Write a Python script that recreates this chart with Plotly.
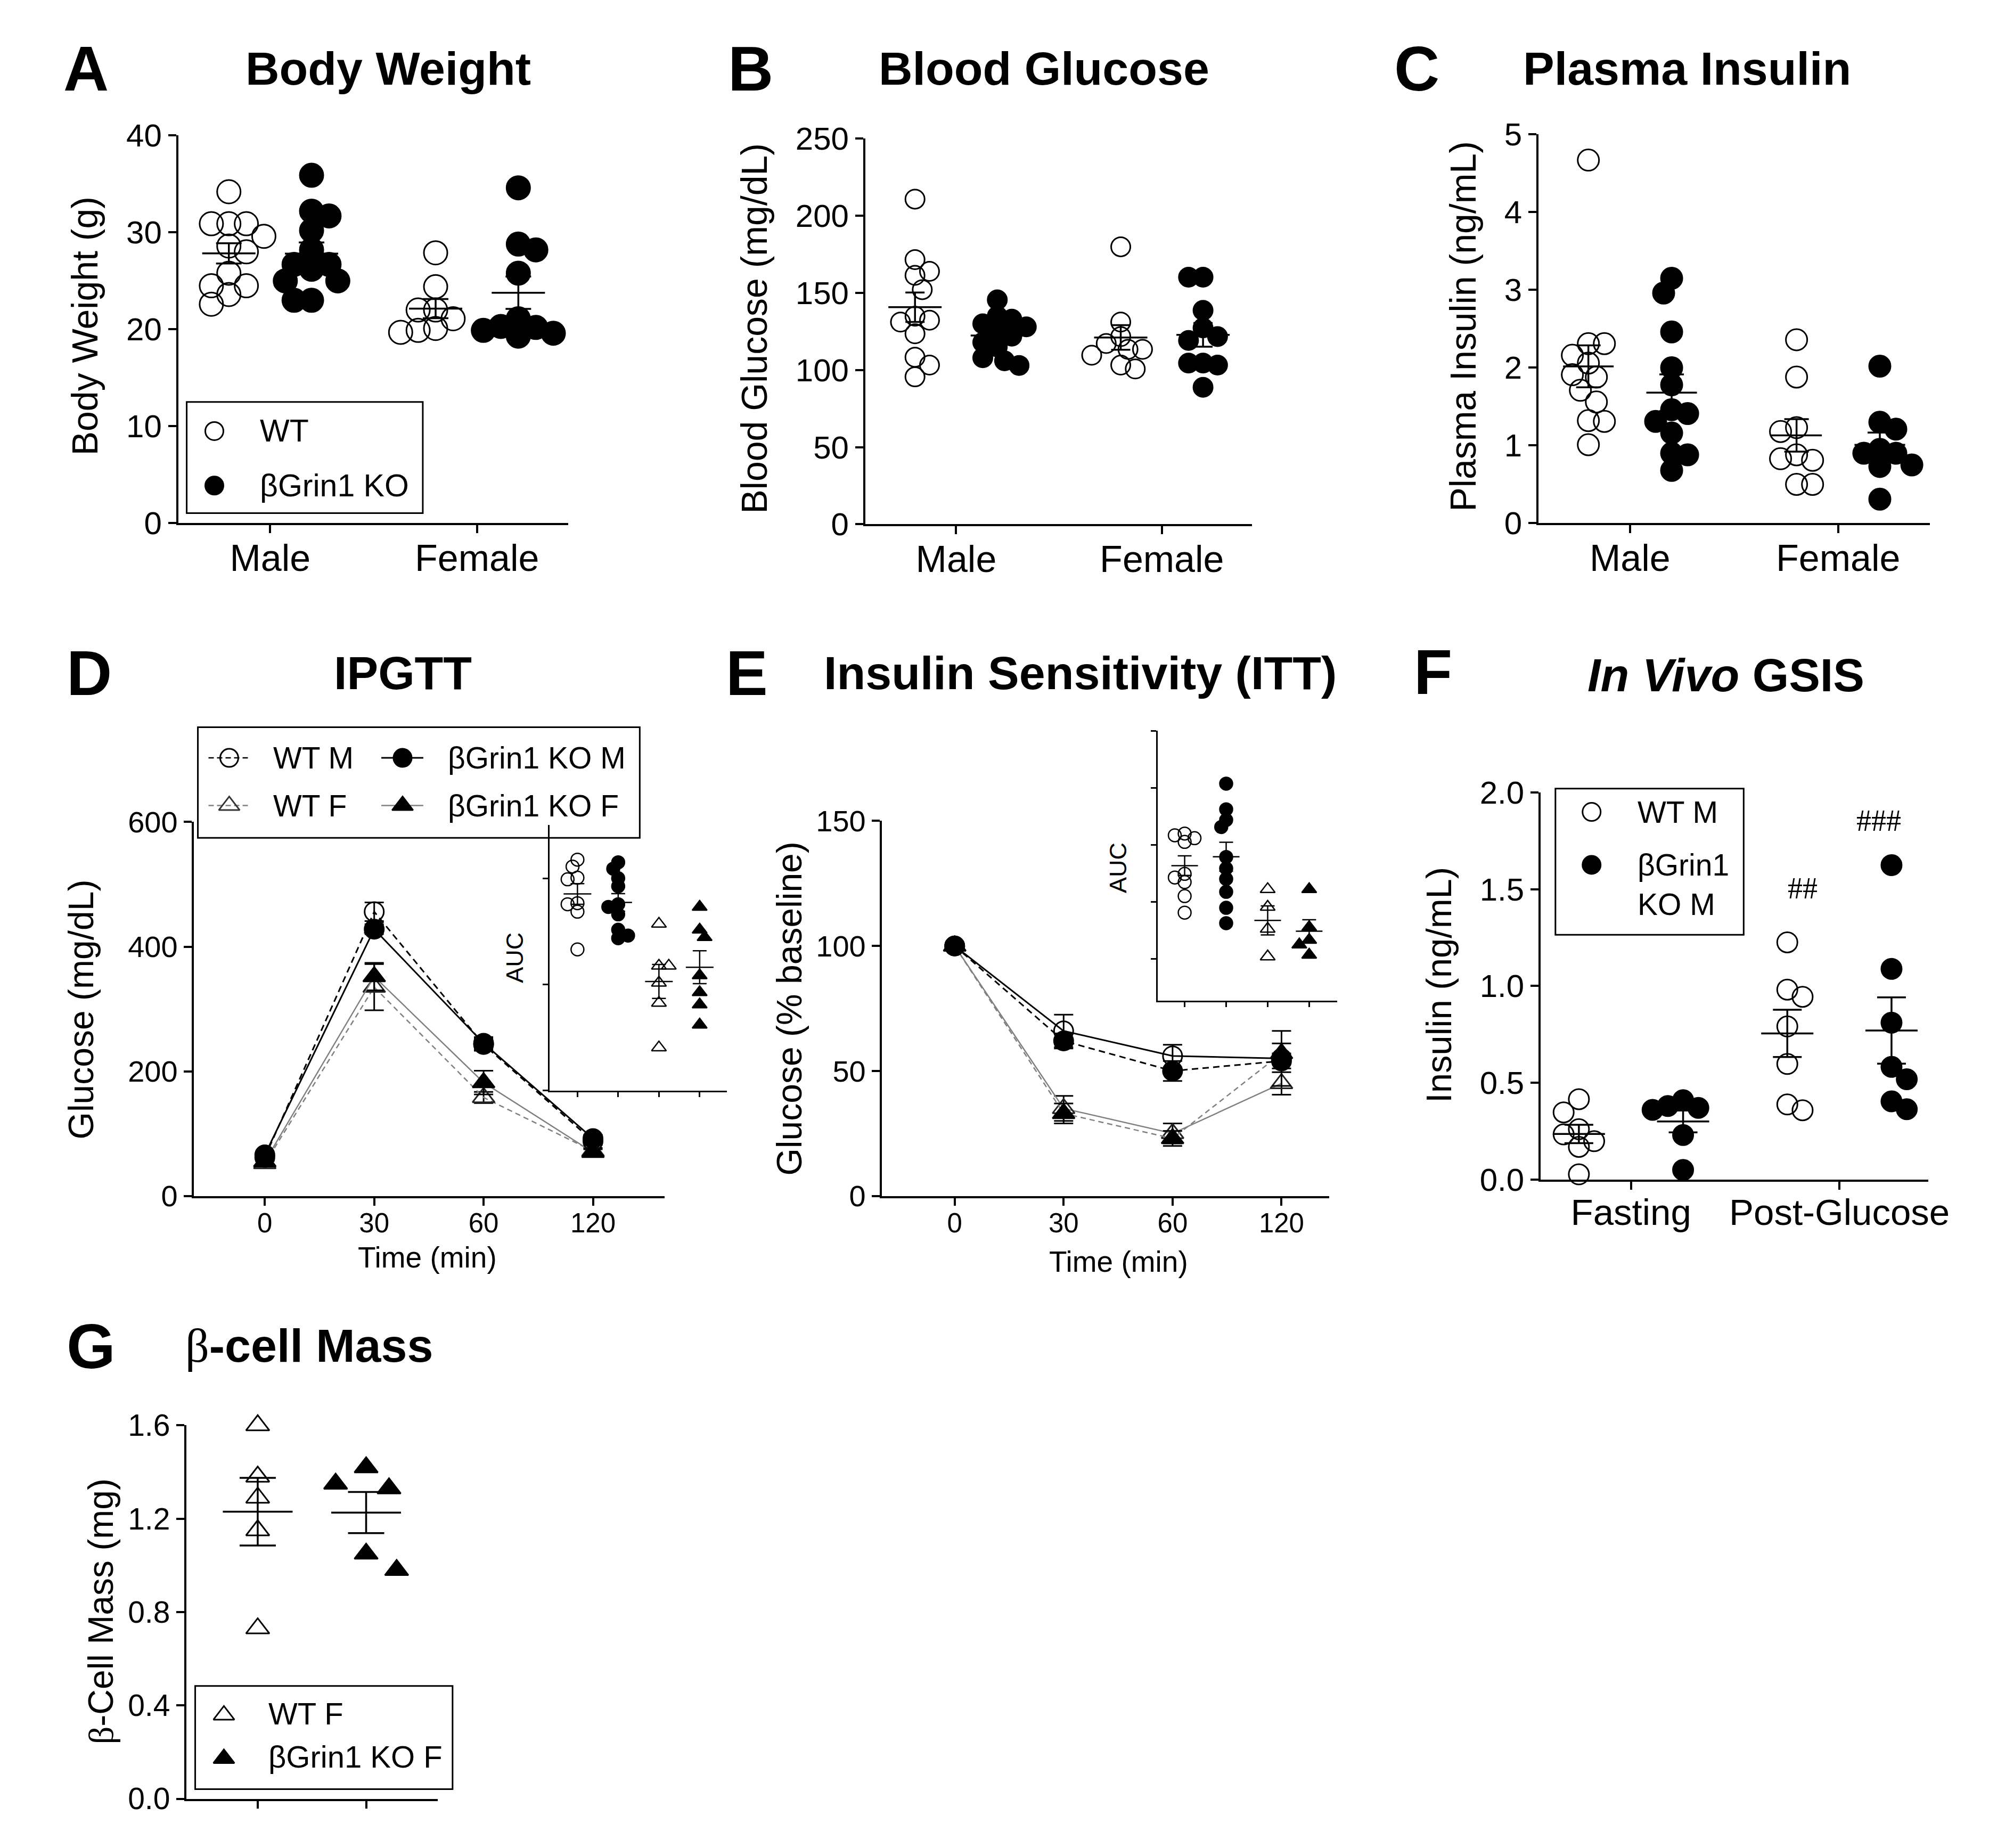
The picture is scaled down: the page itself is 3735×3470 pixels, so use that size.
import numpy as np
import plotly.graph_objects as go

# Positions below are measured in reference-image pixels (3735 x 3470).  The page photo
# shows the plot slightly scaled and shifted, so reference pixels are mapped through
# (S_X, S_Y, OX, OY) onto the figure.
FW, FH = 3735, 3470
S_X, S_Y = 0.991, 0.986
OX, OY = 8, 42
SANS = "Liberation Sans, Arial, sans-serif"
SERIF = "Liberation Serif, Times New Roman, serif"
GRAY = "#808080"

# ------------------------------------------------------------------ data
sex_labels = ["Male", "Female"]

bw_wt_male = [34.2, 30.9, 30.9, 30.9, 29.6, 28.6, 28.0, 25.8, 24.5, 24.5, 23.6, 22.6]
bw_ko_male = [35.9, 32.2, 31.7, 30.2, 28.2, 26.7, 26.7, 26.2, 25.0, 25.0, 23.0, 23.0]
bw_wt_female = [27.9, 24.4, 22.0, 22.0, 21.1, 20.1, 19.9, 19.7]
bw_ko_female = [34.6, 28.8, 28.2, 25.8, 21.1, 20.3, 20.2, 19.9, 19.6, 19.3]

bg_wt_male = [210.8, 171.6, 164.0, 161.4, 152.1, 134.9, 132.3, 131.1, 123.5, 108.3, 103.2, 95.6]
bg_ko_male = [145.5, 135.0, 133.0, 130.0, 128.0, 125.0, 122.0, 118.0, 115.0, 108.0, 106.0, 103.0]
bg_wt_female = [179.9, 131.1, 121.7, 117.2, 113.4, 113.4, 109.6, 103.2, 100.7]
bg_ko_female = [160.2, 160.2, 138.7, 127.3, 121.7, 119.2, 104.5, 104.5, 103.2, 88.8]

pi_wt_male = [4.67, 2.31, 2.31, 2.16, 2.06, 1.91, 1.88, 1.71, 1.56, 1.32, 1.31, 1.01]
pi_ko_male = [3.15, 2.96, 2.46, 2.00, 1.78, 1.46, 1.41, 1.31, 1.16, 0.90, 0.88, 0.68]
pi_wt_female = [2.36, 1.88, 1.23, 1.18, 0.88, 0.83, 0.81, 0.50, 0.50]
pi_ko_female = [2.02, 1.30, 1.21, 0.95, 0.90, 0.90, 0.75, 0.73, 0.31]

time_labels = ["0", "30", "60", "120"]

gtt_wt_m = [62, 456, 243, 88]
gtt_wt_m_sem = [6, 15, 10, 6]
gtt_ko_m = [66, 428, 245, 92]
gtt_ko_m_sem = [5, 8, 10, 6]
gtt_wt_f = [52, 335, 158, 72]
gtt_wt_f_sem = [5, 37, 9, 5]
gtt_ko_f = [55, 352, 182, 70]
gtt_ko_f_sem = [5, 22, 19, 5]

gtt_auc_wt_m = [43500, 42200, 40100, 39800, 35300, 35100, 33700, 26600]
gtt_auc_ko_m = [43000, 41800, 40000, 38500, 35100, 34600, 33200, 30300, 29200, 28700]
gtt_auc_wt_f = [31400, 23500, 23500, 20300, 16500, 8100]
gtt_auc_ko_f = [34600, 30300, 28900, 21700, 18500, 16200, 12400]

itt_wt_m = [100, 66, 56, 55]
itt_wt_m_sem = [0, 6.5, 4.5, 11]
itt_ko_m = [100, 62, 50, 54]
itt_ko_m_sem = [0, 3, 4, 3]
itt_wt_f = [100, 35, 25, 45]
itt_wt_f_sem = [0, 5, 4, 4.5]
itt_ko_f = [100, 33, 23, 57]
itt_ko_f_sem = [0, 4, 3, 4]

itt_auc_wt_m = [6400, 6340, 6240, 6110, 4990, 4860, 4700, 4210, 3630]
itt_auc_ko_m = [8150, 7250, 6880, 6630, 5580, 5180, 4810, 4360, 3800, 3260]
itt_auc_wt_f = [4450, 3830, 3060, 2090]
itt_auc_ko_f = [4450, 3120, 2670, 2510, 2150]

gsis_labels = ["Fasting", "Post-Glucose"]
gsis_wt_fast = [0.415, 0.347, 0.26, 0.233, 0.198, 0.169, 0.027]
gsis_ko_fast = [0.41, 0.38, 0.37, 0.36, 0.23, 0.05]
gsis_wt_post = [1.225, 0.981, 0.944, 0.791, 0.597, 0.388, 0.358]
gsis_ko_post = [1.624, 1.088, 0.81, 0.582, 0.518, 0.404, 0.363]

bcm_labels = ["WT F", "βGrin1 KO F"]
bcm_wt_f = [1.60, 1.38, 1.29, 1.15, 0.73]
bcm_ko_f = [1.42, 1.35, 1.33, 1.05, 0.98]


# ------------------------------------------------------------------ geometry helpers
def pxx(x):
    return (x / S_X - OX) / FW


def pxy(y):
    return 1 - (y / S_Y - OY) / FH


P = {
    "A": dict(n=1, x=(335, 1068), xr=(-0.445, 1.44), y=(256, 988), yr=(0, 40), dtick=10, xf=70, yf=60, xso=-13),
    "B": dict(n=2, x=(1627, 2354), xr=(-0.442, 1.437), y=(262, 990), yr=(0, 250), dtick=50, xf=70, yf=60, xso=-13),
    "C": dict(n=3, x=(2893, 3629), xr=(-0.44, 1.44), y=(254, 988), yr=(0, 5), dtick=1, xf=70, yf=60, xso=-13),
    "D": dict(n=4, x=(364, 1250), xr=(-0.651, 3.656), y=(1552, 2258), yr=(0, 600), dtick=200, xf=51, yf=56, xso=-12),
    "Di": dict(n=5, x=(1033, 1367), xr=(-0.69, 3.67), y=(1558, 2059), yr=(0, 50000), dtick=20000, xf=10, yf=10, xso=0),
    "E": dict(n=6, x=(1658, 2500), xr=(-0.67, 3.44), y=(1550, 2258), yr=(0, 150), dtick=50, xf=51, yf=56, xso=-12),
    "Ei": dict(n=7, x=(2177, 2515), xr=(-0.65, 3.68), y=(1380, 1889), yr=(550, 10000), dtick=2000, xf=10, yf=10, xso=0),
    "F": dict(n=8, x=(2897, 3626), xr=(-0.434, 1.426), y=(1496, 2227), yr=(0, 2), dtick=0.5, xf=69, yf=60, xso=-16),
    "G": dict(n=9, x=(350, 823), xr=(-0.66, 1.66), y=(2691, 3396), yr=(0, 1.6), dtick=0.4, xf=10, yf=57, xso=0),
}


def ref(n, k):
    return k if n == 1 else f"{k}{n}"


def axkey(n, k):
    return f"{k}axis" if n == 1 else f"{k}axis{n}"


def swarm(values, d, ypx, xpx, overlap=0.7):
    vals = np.asarray(values, float)
    order = np.argsort(-vals)
    placed = []
    offs = np.zeros(len(vals))
    step = d * 0.35
    for j, i in enumerate(order):
        y = vals[i] * ypx
        sign = 1 if j % 2 == 0 else -1
        cands = [0.0]
        for m in range(1, 30):
            cands += [sign * m * step, -sign * m * step]
        for c in cands:
            if all((c - qx) ** 2 + (y - qy) ** 2 >= (overlap * d) ** 2 for qx, qy in placed):
                break
        placed.append((c, y))
        offs[i] = c / xpx
    return offs


fig = go.Figure()


def add_dots(p, values, xi, symbol, size, lw=3, overlap=0.7, mean_len=100, cap=24, mlw=3.5):
    g = P[p]
    n = g["n"]
    ypx = (g["y"][1] - g["y"][0]) / (g["yr"][1] - g["yr"][0])
    xpx = (g["x"][1] - g["x"][0]) / (g["xr"][1] - g["xr"][0])
    offs = swarm(values, size + lw, ypx, xpx, overlap)
    fig.add_trace(go.Scatter(
        x=xi + offs, y=values, mode="markers",
        marker=dict(symbol=symbol, size=size, color="black", line=dict(color="black", width=lw)),
        xaxis=ref(n, "x"), yaxis=ref(n, "y"), cliponaxis=False, showlegend=False, hoverinfo="skip"))
    v = np.asarray(values, float)
    m = v.mean()
    s = v.std(ddof=1) / np.sqrt(len(v))
    fig.add_trace(go.Scatter(
        x=[xi], y=[m], mode="markers",
        marker=dict(symbol="line-ew", size=mean_len / 1.4, color="black", line=dict(color="black", width=mlw)),
        error_y=dict(type="data", array=[s], width=cap, thickness=mlw, color="black"),
        xaxis=ref(n, "x"), yaxis=ref(n, "y"), cliponaxis=False, showlegend=False, hoverinfo="skip"))


def add_curve(p, means, sems, symbol, mcolor, lcolor, dash, lwidth, msize=36):
    n = P[p]["n"]
    fig.add_trace(go.Scatter(
        x=np.arange(len(means)), y=means, mode="lines+markers",
        line=dict(color=lcolor, width=lwidth, dash=dash),
        marker=dict(symbol=symbol, size=msize, color=mcolor, line=dict(color=mcolor, width=3)),
        error_y=dict(type="data", array=sems, width=18, thickness=3, color="black"),
        xaxis=ref(n, "x"), yaxis=ref(n, "y"), cliponaxis=False, showlegend=False, hoverinfo="skip"))


# A - body weight
add_dots("A", bw_wt_male, 0 - 0.2, "circle-open", 44)
add_dots("A", bw_ko_male, 0 + 0.2, "circle", 44)
add_dots("A", bw_wt_female, 1 - 0.2, "circle-open", 44)
add_dots("A", bw_ko_female, 1 + 0.2, "circle", 44)
# B - blood glucose
add_dots("B", bg_wt_male, 0 - 0.2, "circle-open", 36, mean_len=100, cap=18)
add_dots("B", bg_ko_male, 0 + 0.2, "circle", 36, mean_len=100, cap=18)
add_dots("B", bg_wt_female, 1 - 0.2, "circle-open", 36, mean_len=100, cap=18)
add_dots("B", bg_ko_female, 1 + 0.2, "circle", 36, mean_len=100, cap=18)
# C - plasma insulin
add_dots("C", pi_wt_male, 0 - 0.2, "circle-open", 40, mean_len=95, cap=23)
add_dots("C", pi_ko_male, 0 + 0.2, "circle", 40, mean_len=95, cap=23)
add_dots("C", pi_wt_female, 1 - 0.2, "circle-open", 40, mean_len=95, cap=23)
add_dots("C", pi_ko_female, 1 + 0.2, "circle", 40, mean_len=95, cap=23)

# D - IPGTT curves
add_curve("D", gtt_wt_f, gtt_wt_f_sem, "triangle-up-open", "#222222", GRAY, "10px,7px", 2.5)
add_curve("D", gtt_ko_f, gtt_ko_f_sem, "triangle-up", "black", GRAY, "solid", 2.5)
add_curve("D", gtt_wt_m, gtt_wt_m_sem, "circle-open", "black", "black", "12px,8px", 3)
add_curve("D", gtt_ko_m, gtt_ko_m_sem, "circle", "black", "black", "solid", 3)
# D inset AUC
for k, (vals, sym) in enumerate([(gtt_auc_wt_m, "circle-open"), (gtt_auc_ko_m, "circle"),
                                 (gtt_auc_wt_f, "triangle-up-open"), (gtt_auc_ko_f, "triangle-up")]):
    add_dots("Di", vals, k, sym, 24, lw=2.5, overlap=0.55, mean_len=52, cap=13, mlw=2.5)

# E - ITT curves
add_curve("E", itt_wt_f, itt_wt_f_sem, "triangle-up-open", "#222222", GRAY, "solid", 2.5)
add_curve("E", itt_ko_f, itt_ko_f_sem, "triangle-up", "black", GRAY, "10px,7px", 2.5)
add_curve("E", itt_wt_m, itt_wt_m_sem, "circle-open", "black", "black", "solid", 3)
add_curve("E", itt_ko_m, itt_ko_m_sem, "circle", "black", "black", "12px,8px", 3)
# E inset AUC
for k, (vals, sym) in enumerate([(itt_auc_wt_m, "circle-open"), (itt_auc_ko_m, "circle"),
                                 (itt_auc_wt_f, "triangle-up-open"), (itt_auc_ko_f, "triangle-up")]):
    add_dots("Ei", vals, k, sym, 24, lw=2.5, overlap=0.55, mean_len=50, cap=13, mlw=2.5)

# F - GSIS
add_dots("F", gsis_wt_fast, 0 - 0.25, "circle-open", 38, mean_len=98, cap=27)
add_dots("F", gsis_ko_fast, 0 + 0.25, "circle", 38, mean_len=98, cap=27)
add_dots("F", gsis_wt_post, 1 - 0.25, "circle-open", 38, mean_len=98, cap=27)
add_dots("F", gsis_ko_post, 1 + 0.25, "circle", 38, mean_len=98, cap=27)

# G - beta-cell mass
add_dots("G", bcm_wt_f, 0, "triangle-up-open", 38, overlap=0.9, mean_len=131, cap=34)
add_dots("G", bcm_ko_f, 1, "triangle-up", 38, overlap=1.4, mean_len=131, cap=34)

# ------------------------------------------------------------------ axes
layout = dict(width=FW, height=FH, margin=dict(l=0, r=0, t=0, b=0),
              paper_bgcolor="white", plot_bgcolor="rgba(0,0,0,0)", showlegend=False,
              font=dict(family=SANS, color="black"))

xticks = {
    "A": (list(range(len(sex_labels))), sex_labels),
    "B": (list(range(len(sex_labels))), sex_labels),
    "C": (list(range(len(sex_labels))), sex_labels),
    "D": (list(range(len(time_labels))), time_labels),
    "Di": (list(range(4)), [""] * 4),
    "E": (list(range(len(time_labels))), time_labels),
    "Ei": (list(range(4)), [""] * 4),
    "F": (list(range(len(gsis_labels))), gsis_labels),
    "G": (list(range(len(bcm_labels))), ["", ""]),
}

for key, g in P.items():
    n = g["n"]
    inset = key in ("Di", "Ei")
    lw = 2.5 if inset else 3.5
    tl = 10 if inset else 15
    common = dict(showline=True, linecolor="black", linewidth=lw, ticks="outside", ticklen=tl,
                  tickwidth=lw, tickcolor="black", showgrid=False, zeroline=False, fixedrange=True)
    tv, tt = xticks[key]
    layout[axkey(n, "x")] = dict(domain=[pxx(g["x"][0]), pxx(g["x"][1])], range=list(g["xr"]),
                                 anchor=ref(n, "y"), tickmode="array", tickvals=tv, ticktext=tt,
                                 showticklabels=not inset and key != "G", ticklabelstandoff=g["xso"],
                                 tickfont=dict(family=SANS, size=g["xf"], color="black"), **common)
    ydict = dict(domain=[pxy(g["y"][1]), pxy(g["y"][0])], range=list(g["yr"]),
                 anchor=ref(n, "x"), tick0=0, dtick=g["dtick"], showticklabels=not inset,
                 tickfont=dict(family=SANS, size=g["yf"], color="black"), **common)
    if key in ("F", "G"):
        ydict["tickformat"] = ".1f"
    layout[axkey(n, "y")] = ydict

# overlay axis in reference-pixel space for the hand-drawn legend glyphs
layout["xaxis10"] = dict(domain=[0, 1], range=[S_X * OX, S_X * (FW + OX)], visible=False,
                         fixedrange=True, anchor="y10")
layout["yaxis10"] = dict(domain=[0, 1], range=[S_Y * (FH + OY), S_Y * OY], visible=False,
                         fixedrange=True, anchor="x10")

fig.update_layout(**layout)


# ------------------------------------------------------------------ legends (layout positions in px)
def glyph(x, y, symbol, size, color="black", lw=3):
    fig.add_trace(go.Scatter(x=[x], y=[y], mode="markers", xaxis="x10", yaxis="y10",
                             marker=dict(symbol=symbol, size=size, color=color, line=dict(color=color, width=lw)),
                             showlegend=False, hoverinfo="skip", cliponaxis=False))


def seg(x0, x1, y, color, dash, width):
    fig.add_trace(go.Scatter(x=[x0, x1], y=[y, y], mode="lines", xaxis="x10", yaxis="y10",
                             line=dict(color=color, dash=dash, width=width),
                             showlegend=False, hoverinfo="skip", cliponaxis=False))


def box(x0, y0, x1, y1):
    fig.add_shape(type="rect", xref="paper", yref="paper", x0=pxx(x0), x1=pxx(x1),
                  y0=pxy(y1), y1=pxy(y0), line=dict(color="black", width=3), fillcolor="rgba(0,0,0,0)")


annotations = []


def txt(text, x, y, size, bold=False, family=SANS, angle=0, xanchor="center", align="center"):
    annotations.append(dict(text=f"<b>{text}</b>" if bold else text, x=pxx(x), y=pxy(y),
                            xref="paper", yref="paper", showarrow=False, xanchor=xanchor, yanchor="middle",
                            textangle=angle, align=align,
                            font=dict(family=family, size=size, color="black")))


# A legend
box(351, 759, 795, 969)
glyph(403, 814, "circle-open", 34)
glyph(403, 917, "circle", 34)
txt("WT", 487, 814, 59, xanchor="left")
txt("βGrin1 KO", 487, 917, 59, xanchor="left")

# D legend
box(372, 1373, 1203, 1582)
seg(392, 471, 1431, "black", "10px,6px", 2.5)
glyph(431, 1431, "circle-open", 34)
seg(717, 796, 1431, "black", "solid", 3)
glyph(757, 1431, "circle", 34)
seg(392, 471, 1521, GRAY, "10px,6px", 2.5)
glyph(431, 1521, "triangle-up-open", 34, color="#333333")
seg(717, 796, 1521, GRAY, "solid", 2.5)
glyph(757, 1521, "triangle-up", 34)
txt("WT M", 512, 1431, 57, xanchor="left")
txt("βGrin1 KO M", 840, 1431, 57, xanchor="left")
txt("WT F", 512, 1521, 57, xanchor="left")
txt("βGrin1 KO F", 840, 1521, 57, xanchor="left")

# F legend
box(2925, 1489, 3279, 1765)
glyph(2993, 1533, "circle-open", 34)
glyph(2993, 1633, "circle", 34)
txt("WT M", 3077, 1533, 57, xanchor="left")
txt("βGrin1<br>KO M", 3077, 1670, 57, xanchor="left", align="left")

# G legend
box(367, 3183, 851, 3378)
glyph(421, 3238, "triangle-up-open", 34)
glyph(421, 3320, "triangle-up", 34)
txt("WT F", 503, 3235, 58, xanchor="left")
txt("βGrin1 KO F", 503, 3317, 58, xanchor="left")

# ------------------------------------------------------------------ panel letters, titles, axis titles
for letter, x, y in [("A", 162, 130), ("B", 1411, 130), ("C", 2664, 130), ("D", 168, 1271),
                     ("E", 1404, 1271), ("F", 2695, 1269), ("G", 171, 2542)]:
    txt(letter, x, y, 118, bold=True)

txt("Body Weight", 730, 129, 88, bold=True)
txt("Blood Glucose", 1963, 129, 88, bold=True)
txt("Plasma Insulin", 3173, 129, 88, bold=True)
txt("IPGTT", 758, 1271, 88, bold=True)
txt("Insulin Sensitivity (ITT)", 2031, 1271, 88, bold=True)
txt("<i>In Vivo</i> GSIS", 3246, 1275, 88, bold=True)
txt("<span style='font-family:Liberation Serif'>β</span><b>-cell Mass</b>", 581, 2540, 88)

txt("Body Weight (g)", 160, 616, 68, angle=-90)
txt("Blood Glucose (mg/dL)", 1418, 621, 68, angle=-90)
txt("Plasma Insulin (ng/mL)", 2751, 617, 68, angle=-90)
txt("Glucose (mg/dL)", 152, 1906, 66, angle=-90)
txt("Glucose (% baseline)", 1484, 1904, 66, angle=-90)
txt("Insulin (ng/mL)", 2706, 1860, 67, angle=-90)
txt("<span style='font-family:Liberation Serif'>β</span>-Cell Mass (mg)", 190, 3042, 66, angle=-90)

txt("Time (min)", 804, 2374, 55)
txt("Time (min)", 2103, 2382, 55)
txt("AUC", 967, 1808, 45, angle=-90)
txt("AUC", 2103, 1639, 45, angle=-90)

txt("##", 3390, 1677, 56, family=SERIF)
txt("###", 3533, 1550, 56, family=SERIF)

fig.update_layout(annotations=annotations)

fig.write_html("out.html")
